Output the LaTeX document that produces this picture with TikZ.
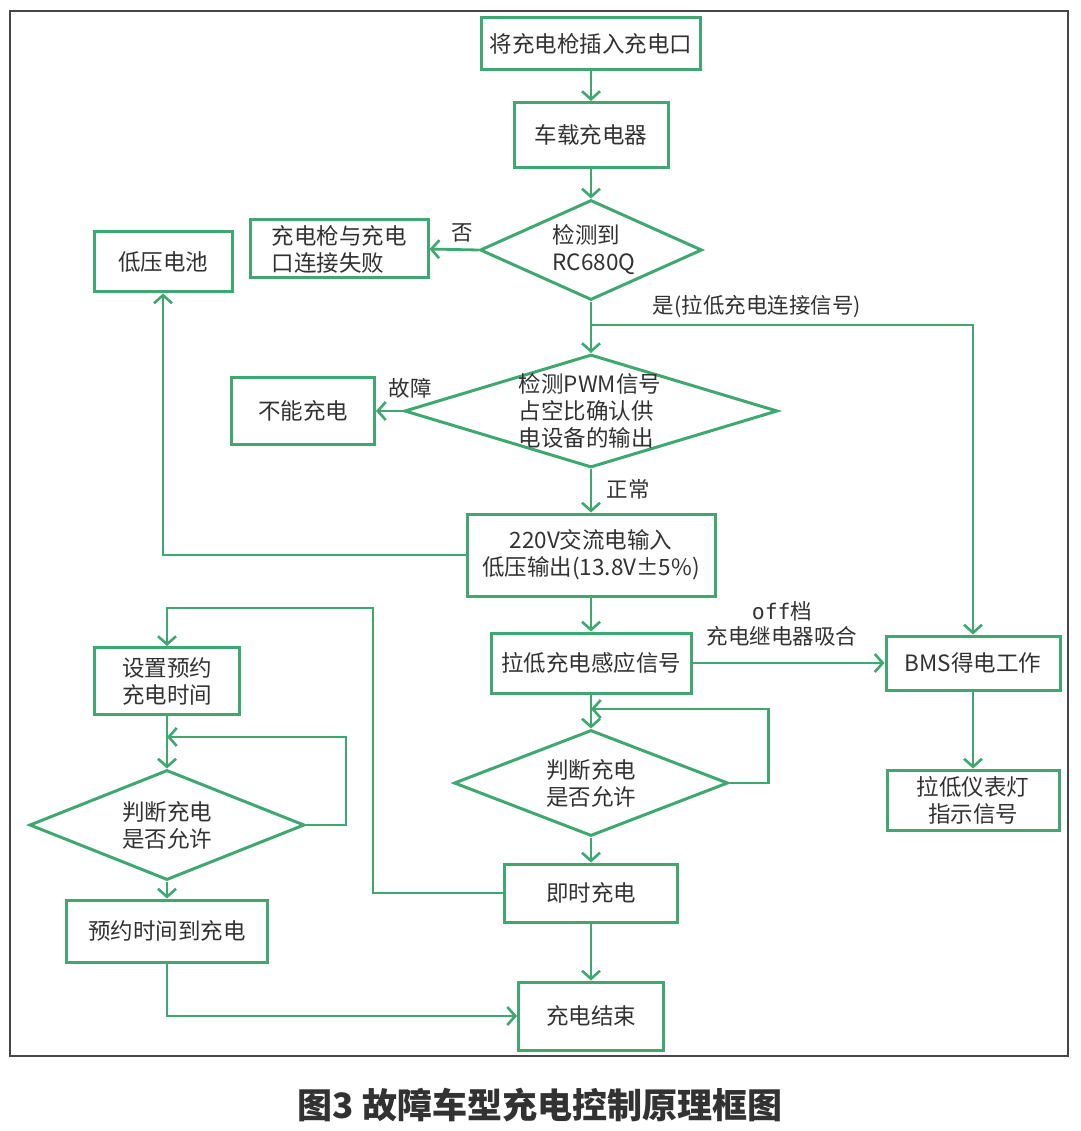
\documentclass[tikz,border=0pt]{standalone}
\usepackage{fontspec}
\setmainfont{Noto Sans CJK SC}
\newfontfamily\monof{DejaVu Sans Mono}
\usetikzlibrary{arrows.meta,shapes.geometric}
\definecolor{gline}{RGB}{62,168,112}
\definecolor{txt}{RGB}{50,50,50}
\definecolor{framec}{RGB}{70,70,70}
\begin{document}
\begin{tikzpicture}[x=1pt,y=-1pt,
  box/.style={draw=gline,line width=3pt,text=txt,font=\fontsize{22.5}{27}\selectfont,inner sep=0pt,align=center},
  dia/.style={draw=gline,line width=3pt,diamond,inner sep=0pt},
  dtext/.style={text=txt,font=\fontsize{22.5}{27}\selectfont,inner sep=0pt,align=left},
  arr/.style={draw=gline,line width=2.8pt,-{Straight Barb[length=8pt,width=18pt,line width=2.6pt]}},
  ln/.style={draw=gline,line width=2.8pt},
  lab/.style={text=txt,font=\fontsize{21.5}{25}\selectfont,inner sep=0pt,align=center}]
\useasboundingbox (0,0) rectangle (1080,1131);
\draw[framec,line width=2pt] (10,11) rectangle (1068,1056);

% main column
\node[box,minimum width=219pt,minimum height=52pt] (b1) at (591,44) {将充电枪插入充电口};
\node[box,minimum width=154pt,minimum height=65pt] (b2) at (591,135) {车载充电器};
\node[dia,minimum width=222pt,minimum height=100pt] (d3) at (591,250) {};
\node[dtext] (t3) at (594,250) {检测到\\RC680Q};
\node[box,minimum width=178pt,minimum height=58pt,align=left] (b4) at (339,249) {充电枪与充电\\口连接失败};
\node[box,minimum width=138pt,minimum height=60pt] (b5) at (163,262) {低压电池};
\node[dia,minimum width=373pt,minimum height=113pt] (d6) at (591,411) {};
\node[dtext] (t6) at (590,411) {检测PWM信号\\占空比确认供\\电设备的输出};
\node[box,minimum width=143pt,minimum height=67pt] (b7) at (303,411) {不能充电};
\node[box,minimum width=248pt,minimum height=82pt] (b8) at (591,555) {220V交流电输入\\低压输出(13.8V±5\%)};
\node[box,minimum width=200pt,minimum height=60pt] (b9) at (591,663) {拉低充电感应信号};
\node[box,minimum width=174pt,minimum height=54pt] (b10) at (973,663) {BMS得电工作};
\node[box,minimum width=172pt,minimum height=60pt] (b11) at (973,800) {拉低仪表灯\\指示信号};
\node[dia,minimum width=274pt,minimum height=106pt] (d12) at (591,783) {};
\node[dtext] (t12) at (591,783) {判断充电\\是否允许};
\node[box,minimum width=173pt,minimum height=58pt] (b13) at (591,893) {即时充电};
\node[box,minimum width=145pt,minimum height=68pt] (b14) at (591,1016) {充电结束};
% left column
\node[box,minimum width=145pt,minimum height=67pt] (b15) at (167,681) {设置预约\\充电时间};
\node[dia,minimum width=275pt,minimum height=110pt] (d16) at (167,825) {};
\node[dtext] (t16) at (167,825) {判断充电\\是否允许};
\node[box,minimum width=201pt,minimum height=62pt] (b17) at (167,931) {预约时间到充电};

% connectors
\draw[arr] (b1) -- (b2);
\draw[arr] (b2) -- (d3);
\draw[arr] (d3.west) -- (b4.east);
\node[lab] (l1) at (462,233) {否};
\draw[arr] (d3.south) -- (d6.north);
\coordinate (br) at (591,325);
\draw[arr] (br) -| (b10.north);
\node[lab] (l2) at (757,307) {是(拉低充电连接信号)};
\draw[arr] (d6.west) -- (b7.east);
\node[lab] (l3) at (410,388) {故障};
\draw[arr] (d6.south) -- (b8.north);
\node[lab] (l4) at (628,489) {正常};
\draw[arr] (b8.west) -| (b5.south);
\draw[arr] (b8.south) -- (b9.north);
\draw[arr] (b9.east) -- (b10.west);
\node[lab] (l5) at (782,624) {{\monof off}档\\充电继电器吸合};
\draw[arr] (b10.south) -- (b11.north);
\draw[arr] (b9.south) -- (d12.north);
\coordinate (m1) at (591,709);
\draw[arr] (d12.east) -- ++(39,0) |- (m1);
\draw[arr] (d12.south) -- (b13.north);
\draw[arr] (b13.south) -- (b14.north);
\draw[arr] (b13.west) -| (373,608) -| (b15.north);
\draw[arr] (b15.south) -- (d16.north);
\coordinate (m2) at (167,737);
\draw[arr] (d16.east) -- ++(40,0) |- (m2);
\draw[arr] (d16.south) -- (b17.north);
\draw[arr] (b17.south) |- (b14.west);

% caption
\node[text=txt,font=\fontsize{35}{38}\selectfont\bfseries,inner sep=0pt] (cap) at (540,1105) {图3 故障车型充电控制原理框图};
\end{tikzpicture}
\end{document}
